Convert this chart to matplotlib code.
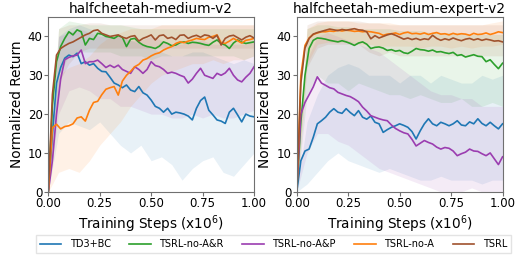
import matplotlib
matplotlib.use("Agg")
import matplotlib.pyplot as plt
import numpy as np

# step grid (x1e6) for the mean curves and the coarser one for the bands
steps = np.round(np.arange(0, 1.0001, 0.02), 2)
band_steps = np.round(np.arange(0, 1.0001, 0.05), 2)

labels = ["TD3+BC", "TSRL-no-A&R", "TSRL-no-A&P", "TSRL-no-A", "TSRL"]
colors = ["#1f77b4", "#2ca02c", "#9b3db0", "#ff7f0e", "#a0522d"]
titles = ["halfcheetah-medium-v2", "halfcheetah-medium-expert-v2"]

# ---- halfcheetah-medium-v2 ----
med_td3bc = [0, 15, 28, 32, 34.4, 35.2, 34.8, 35.7, 33, 33.5, 32.6, 33, 31.8, 31, 30.9, 29.5,
             28, 27.5, 26.8, 27.5, 26.2, 25.8, 27.1, 25.5, 24.9, 23.6, 22, 21.5, 20.5, 21.5, 20,
             20.5, 20.3, 20, 19.5, 18.5, 21.5, 23.5, 24.4, 21, 19.8, 18.5, 18.2, 17.6, 20.5, 21.5,
             19.8, 18, 20, 19.5, 19.3]
med_no_ar = [0, 22, 33.5, 37.4, 39.5, 41.2, 40.4, 41.7, 41.2, 37.8, 39.5, 39.2, 40.8, 40.6, 40,
             39.8, 39.5, 40.2, 39.8, 37.4, 39.3, 39.5, 38.5, 37.8, 37.4, 37.2, 36.9, 37.5, 38.6,
             38.2, 37.6, 37.8, 38.4, 38.6, 38.2, 38.5, 38.4, 38.2, 37.9, 37.7, 38.5, 39.1, 38.2,
             37.8, 36.9, 38.3, 39.1, 38.5, 38.2, 38.4, 38.6]
med_no_ap = [0, 8, 20, 29, 34, 34.6, 35, 35.2, 36.5, 33, 33.5, 33.5, 33.9, 33, 32, 32.6, 32,
             32.6, 31.5, 31, 30.5, 32.2, 31.5, 30.5, 31.5, 33.5, 32.5, 32.2, 31.5, 30.5, 30.8,
             30.5, 30, 29.6, 28, 29, 30.5, 31.8, 30, 29.6, 29.2, 30.5, 30, 30.6, 31.8, 30, 28.8,
             28.3, 29.5, 30.5, 32.2]
med_no_a = [0, 16.5, 17.4, 16.2, 16.8, 17, 17.5, 19, 19.3, 18.2, 21, 23, 23.3, 25, 26.4, 26.8,
            27.1, 24.9, 28.5, 30, 31, 32.2, 32.8, 33.9, 34.3, 35, 35.5, 35.8, 36.5, 37, 37.4,
            38.2, 38.6, 38.4, 38.8, 39.1, 39.5, 39.3, 39.2, 39.8, 40, 40.4, 38.4, 38.2, 38.8,
            39.5, 38.9, 38.3, 39, 39.2, 39.5]
med_tsrl = [0, 25, 35.2, 36.9, 37.6, 38.2, 38.6, 39.2, 39.8, 40.4, 40.8, 41.5, 41.7, 40.8, 40.4,
            40, 40.2, 40.4, 39.8, 39.5, 40, 40.2, 38.8, 39.5, 39.9, 40.4, 39.1, 40.2, 40.4, 39.5,
            39.8, 39.2, 40.3, 40.4, 39.5, 40, 40.3, 39.8, 40.4, 40.2, 39.5, 40.3, 37.8, 39.5,
            40.1, 40.3, 39.7, 39.1, 39.8, 40.2, 39.6]

med_lo = [
    [0, 15, 18, 17, 16, 18, 15, 12, 10, 12, 8, 9, 7, 3, 6, 8, 9, 5, 4, 7, 10],
    [0, 30, 35, 36, 36, 36, 36, 35, 35, 35, 34, 35, 35, 35, 35, 35, 35, 35, 35, 34, 35],
    [0, 20, 26, 27, 26, 24, 24, 22, 22, 21, 20, 20, 19, 19, 20, 19, 20, 19, 19, 20, 21],
    [0, 5, 6, 5, 8, 12, 15, 18, 22, 25, 28, 30, 31, 32, 33, 33, 34, 33, 34, 34, 35],
    [0, 28, 33, 36, 37, 37, 37, 37, 37, 37, 37, 37, 37, 37, 37, 37, 37, 37, 37, 37, 37],
]
med_hi = [
    [0, 40, 42, 43, 42, 41, 40, 40, 39, 38, 37, 36, 35, 35, 36, 36, 35, 34, 33, 34, 33],
    [0, 42, 44, 43.5, 43, 43, 43, 43, 42.5, 42, 42, 42, 42, 42, 42, 42, 42, 42, 42, 42, 42],
    [0, 40, 41, 42, 41, 40, 40, 40, 39, 39, 40, 39, 38, 38, 39, 39, 38, 38, 38, 38, 39],
    [0, 30, 32, 33, 35, 38, 40, 41, 42, 42, 42, 43, 43, 43, 43, 43, 43, 43, 43, 43, 43],
    [0, 42, 43, 43, 43.5, 43.5, 43, 43, 43, 43, 43, 43, 43, 43, 43, 43, 43, 43, 43, 43, 43],
]

# ---- halfcheetah-medium-expert-v2 ----
mex_td3bc = [0, 8, 10.5, 11, 14, 17.5, 18.3, 19.2, 20.5, 21.4, 20.5, 20.2, 21.4, 20.4, 19.6,
             20.9, 19.2, 18.7, 19.5, 17.9, 17.5, 15.3, 16, 16.6, 17, 17.5, 17.1, 16.6, 15.5, 13.6,
             15.7, 17.5, 18.8, 17.5, 17, 17.9, 17.5, 17, 17.5, 18.3, 17.2, 17, 18, 17.5, 18.8,
             17.6, 17, 17.9, 17, 16.2, 17.5]
mex_no_ar = [0, 18, 30, 36.9, 39, 39.6, 39.5, 39.3, 39, 38.8, 38.6, 38.9, 38.6, 38.2, 37.7,
             38.3, 38.6, 38, 36.9, 37.2, 37.3, 37, 36.4, 36.6, 36.2, 36.4, 35.8, 35.6, 36.2, 36.9,
             36.6, 36.5, 36.2, 36.5, 36, 36.1, 35.8, 35.6, 35.9, 35.1, 35.3, 34.7, 35, 35.3, 34.9,
             34.8, 33.5, 34, 32.8, 31.7, 33.1]
mex_no_ap = [0, 20, 23, 25, 27, 29.6, 28, 27.4, 26.8, 26.5, 25.6, 25.2, 24.8, 24.5, 23.9, 23.2,
             21.8, 20.8, 19.6, 19.2, 18.8, 18.5, 18.3, 17.2, 16.3, 15.7, 15.2, 14.9, 13.5, 11.8,
             12.5, 13.2, 12.7, 12.3, 11.5, 11, 11.4, 11.2, 10.5, 9.3, 9.8, 10.2, 11, 10.5, 10.4,
             9.8, 9.3, 10, 8.5, 7, 9]
mex_no_a = [0, 30, 37.7, 39.6, 40.5, 40.9, 41.2, 41.2, 41.4, 41.3, 41.6, 41.4, 41.6, 41.5, 41.3,
            41.4, 41.2, 41.3, 41.2, 41, 40.8, 40.3, 40.6, 40.7, 40.9, 40.5, 40.9, 41.1, 40.7, 40.8,
            40.6, 40.9, 40.5, 40.8, 41, 40.6, 40.7, 40.4, 40.8, 40.5, 40.7, 40.6, 40.3, 40.8,
            40.5, 40.6, 40.9, 40.5, 40.8, 41.2, 41]
mex_tsrl = [0, 28, 37, 39.5, 40.6, 41, 41.3, 41.6, 41.9, 41.7, 41.5, 41.8, 41.6, 41.8, 42, 41.7,
            41.6, 41.2, 39.4, 40.2, 39.6, 40, 40.4, 40.7, 40.3, 39.8, 39.3, 39.6, 39.2, 39.5,
            39.1, 39.4, 39.2, 40.3, 39.5, 39, 39.4, 39.1, 39.6, 39.2, 38.9, 39.3, 39.5, 39.1,
            39.4, 39, 39.3, 39.1, 38.8, 38.9, 38.6]

mex_lo = [
    [0, 2, 5, 8, 10, 8, 7, 6, 5, 6, 5, 4, 3, 3, 4, 3, 3, 3, 2, 3, 3],
    [0, 25, 30, 28, 28, 26, 28, 27, 26, 25, 25, 24, 25, 24, 23, 23, 24, 22, 22, 23, 22],
    [0, 10, 15, 15, 13, 12, 10, 8, 6, 5, 4, 3, 2, 1, 0, 0, 0, 1, 0, 0, 0],
    [0, 33, 38, 38.5, 38.5, 38.5, 38, 38, 37.5, 37.5, 37.5, 37.5, 37, 37.5, 37.5, 37, 37.5, 37, 37.5, 37.5, 38],
    [0, 32, 37, 38, 38, 38, 38, 36, 35, 36, 35, 35, 35, 35, 35, 35, 35, 35, 35, 35, 35],
]
mex_hi = [
    [0, 18, 25, 30, 32, 33, 32, 30, 30, 30, 28, 30, 30, 28, 30, 29, 28, 28, 30, 29, 30],
    [0, 42, 43, 43, 42.5, 42.5, 42, 42, 42, 42, 41.5, 41.5, 41.5, 41, 41, 41, 41, 40.5, 40.5, 40.5, 40.5],
    [0, 34, 40, 41, 40, 39, 38, 37, 36, 34, 32, 30, 28, 26, 25, 25, 24, 24, 22, 22, 22],
    [0, 42, 43.5, 44, 44, 44, 43.5, 43.5, 43.5, 43.5, 43, 43, 43, 43, 43, 43, 43, 43, 43, 43.5, 44],
    [0, 43, 44, 44, 44, 44, 44, 43.5, 43.5, 43, 43, 43, 43, 43, 43, 43, 43, 43, 43, 43, 43],
]

panels = [
    ([med_td3bc, med_no_ar, med_no_ap, med_no_a, med_tsrl], med_lo, med_hi),
    ([mex_td3bc, mex_no_ar, mex_no_ap, mex_no_a, mex_tsrl], mex_lo, mex_hi),
]

fig = plt.figure(figsize=(5.17, 2.62), dpi=100)
ax_left = fig.add_axes([0.0934, 0.268, 0.398, 0.667])
ax_right = fig.add_axes([0.574, 0.268, 0.398, 0.667])

for ax, title, (means, lows, highs) in zip([ax_left, ax_right], titles, panels):
    for m, lo, hi, c, lab in zip(means, lows, highs, colors, labels):
        ax.fill_between(band_steps, lo, hi, color=c, alpha=0.1, linewidth=0)
        ax.plot(steps, m, color=c, linewidth=1.2, label=lab)
    ax.set_xlim(0, 1)
    ax.set_ylim(0, 45)
    ax.set_xticks([0, 0.25, 0.5, 0.75, 1.0])
    ax.set_xticklabels(["0.00", "0.25", "0.50", "0.75", "1.00"])
    ax.set_yticks([0, 10, 20, 30, 40])
    ax.tick_params(labelsize=8.5, length=3, color="#707070", pad=1)
    for s in ax.spines.values():
        s.set_color("#707070")
    ax.set_title(title, fontsize=9.8, pad=3)
    ax.set_xlabel("Training Steps (x10$^6$)", fontsize=9.8, labelpad=2)
    ax.set_ylabel("Normalized Return", fontsize=9.8, labelpad=3)

fig.legend(*ax_left.get_legend_handles_labels(), loc="lower center", ncol=5,
           bbox_to_anchor=(0.529, 0.015), fontsize=7, handlelength=2.2,
           handletextpad=0.9, columnspacing=1.9, frameon=True,
           edgecolor="#dddddd", fancybox=False)

plt.savefig("out.png", dpi=100)
